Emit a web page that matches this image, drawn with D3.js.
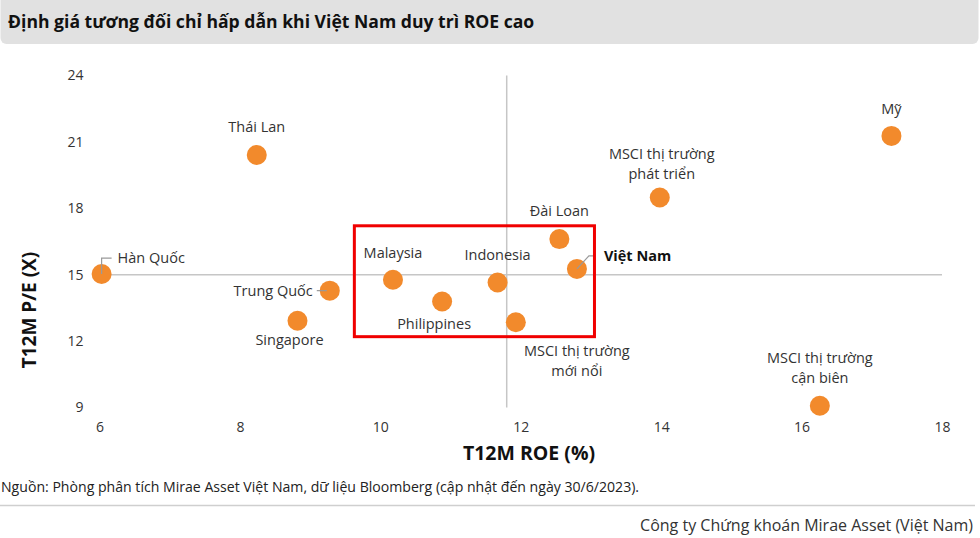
<!DOCTYPE html>
<html>
<head>
<meta charset="utf-8">
<script src="https://cdn.jsdelivr.net/npm/d3@7"></script>
<style>
  body { margin: 0; background: #fff; }
  svg { display: block; font-family: "Open Sans", "Noto Sans", sans-serif; }
</style>
</head>
<body>
<div id="chart"></div>
<script>
// chart data
const names = ["Hàn Quốc", "Thái Lan", "Trung Quốc", "Singapore", "Malaysia", "Philippines",
  "Indonesia", "MSCI thị trường mới nổi", "Đài Loan", "Việt Nam", "MSCI thị trường phát triển",
  "Mỹ", "MSCI thị trường cận biên"];
const roe = [6.03, 8.24, 9.28, 8.82, 10.18, 10.88, 11.67, 11.93, 12.55, 12.80, 13.98, 17.28, 16.26];
const pe = [15.03, 20.41, 14.28, 12.92, 14.77, 13.79, 14.65, 12.85, 16.61, 15.26, 18.49, 21.27, 9.08];
const xTicks = [6, 8, 10, 12, 14, 16, 18];
const yTicks = [9, 12, 15, 18, 21, 24];
const avgRoe = 11.8;   // vertical reference line
const avgPe = 15;      // horizontal reference line
const boxRoe = [9.63, 13.05];  // red highlight box
const boxPe = [12.2, 17.21];

// label layout (pixel offsets from the point)
const labelPos = {
  "Hàn Quốc": { dx: 16, dy: -16, anchor: "start", lines: ["Hàn Quốc"], leader: "elbow" },
  "Thái Lan": { dx: 0, dy: -28, anchor: "middle", lines: ["Thái Lan"] },
  "Trung Quốc": { dx: -17, dy: 0, anchor: "end", lines: ["Trung Quốc"], leader: "left" },
  "Singapore": { dx: -8, dy: 19, anchor: "middle", lines: ["Singapore"] },
  "Malaysia": { dx: 0, dy: -27, anchor: "middle", lines: ["Malaysia"] },
  "Philippines": { dx: -8, dy: 22, anchor: "middle", lines: ["Philippines"] },
  "Indonesia": { dx: 0, dy: -28, anchor: "middle", lines: ["Indonesia"] },
  "MSCI thị trường mới nổi": { dx: 61, dy: 29, anchor: "middle", lines: ["MSCI thị trường", "mới nổi"] },
  "Đài Loan": { dx: 0, dy: -28, anchor: "middle", lines: ["Đài Loan"] },
  "Việt Nam": { dx: 27, dy: -13, anchor: "start", lines: ["Việt Nam"], bold: true, leader: "diag" },
  "MSCI thị trường phát triển": { dx: 2, dy: -44, anchor: "middle", lines: ["MSCI thị trường", "phát triển"] },
  "Mỹ": { dx: 0, dy: -27, anchor: "middle", lines: ["Mỹ"] },
  "MSCI thị trường cận biên": { dx: 0, dy: -48, anchor: "middle", lines: ["MSCI thị trường", "cận biên"] }
};

const width = 980, height = 538;
const svg = d3.select("#chart").append("svg")
  .attr("width", width).attr("height", height);

// title bar
svg.append("rect")
  .attr("x", 0.5).attr("y", -6).attr("width", 978).attr("height", 50)
  .attr("rx", 6).attr("fill", "#e1e1e1");
svg.append("text")
  .attr("x", 8).attr("y", 22).attr("dy", "0.35em")
  .attr("font-size", 17.6).attr("font-weight", 700).attr("fill", "#111")
  .text("Định giá tương đối chỉ hấp dẫn khi Việt Nam duy trì ROE cao");

const x = d3.scaleLinear().domain([6, 18]).range([99.5, 942]);
const y = d3.scaleLinear().domain([9, 24]).range([407.5, 75.5]);

// axes (labels only)
const xAxis = svg.append("g")
  .attr("transform", "translate(0," + y(9) + ")")
  .call(d3.axisBottom(x).tickValues(xTicks).tickSize(0).tickPadding(15));
const yAxis = svg.append("g")
  .attr("transform", "translate(" + x(6) + ",0)")
  .call(d3.axisLeft(y).tickValues(yTicks).tickSize(0).tickPadding(16));
[xAxis, yAxis].forEach(function(g) {
  g.select(".domain").remove();
  g.selectAll("text").attr("font-size", 14).attr("fill", "#333")
    .attr("font-family", "'Open Sans', sans-serif");
});

svg.append("text")
  .attr("x", 529).attr("y", 453).attr("dy", "0.35em")
  .attr("text-anchor", "middle").attr("font-size", 19.5).attr("font-weight", 700).attr("fill", "#111")
  .text("T12M ROE (%)");
svg.append("text")
  .attr("transform", "translate(29,310) rotate(-90)")
  .attr("dy", "0.35em")
  .attr("text-anchor", "middle").attr("font-size", 19).attr("font-weight", 700).attr("fill", "#111")
  .text("T12M P/E (X)");

// reference lines
svg.append("line")
  .attr("x1", x(6)).attr("x2", x(18)).attr("y1", y(avgPe)).attr("y2", y(avgPe))
  .attr("stroke", "#c6c6c6").attr("stroke-width", 1.5);
svg.append("line")
  .attr("x1", x(avgRoe)).attr("x2", x(avgRoe)).attr("y1", y(9)).attr("y2", y(24))
  .attr("stroke", "#c6c6c6").attr("stroke-width", 1.5);

// points
const pts = names.map(function(n, i) { return { name: n, roe: roe[i], pe: pe[i] }; });
svg.append("g").selectAll("circle")
  .data(pts).join("circle")
  .attr("cx", d => x(d.roe)).attr("cy", d => y(d.pe))
  .attr("r", 10).attr("fill", "#f28a2c");

// leader lines
const leaders = svg.append("g").attr("fill", "none").attr("stroke", "#9a9a9a").attr("stroke-width", 1.2);
pts.forEach(function(d) {
  const p = labelPos[d.name];
  const cx = x(d.roe), cy = y(d.pe);
  if (p.leader === "elbow") {
    leaders.append("path").attr("d", "M" + cx + "," + cy + "V" + (cy + p.dy) + "H" + (cx + p.dx - 6));
  } else if (p.leader === "left") {
    leaders.append("path").attr("d", "M" + (cx - 3) + "," + cy + "H" + (cx + p.dx + 4));
  } else if (p.leader === "diag") {
    leaders.append("path").attr("d", "M" + cx + "," + cy + "L" + (cx + 12) + "," + (cy + p.dy) + "H" + (cx + p.dx - 10));
  }
});

// labels
pts.forEach(function(d) {
  const p = labelPos[d.name];
  const t = svg.append("text")
    .attr("x", x(d.roe) + p.dx).attr("y", y(d.pe) + p.dy)
    .attr("text-anchor", p.anchor).attr("font-size", 14.5)
    .attr("font-weight", p.bold ? 700 : 400)
    .attr("fill", p.bold ? "#111" : "#333");
  p.lines.forEach(function(line, i) {
    t.append("tspan").attr("x", x(d.roe) + p.dx).attr("dy", i === 0 ? "0.35em" : "20px").text(line);
  });
});

// highlight box
svg.append("rect")
  .attr("x", x(boxRoe[0])).attr("y", y(boxPe[1]))
  .attr("width", x(boxRoe[1]) - x(boxRoe[0])).attr("height", y(boxPe[0]) - y(boxPe[1]))
  .attr("fill", "none").attr("stroke", "#f00000").attr("stroke-width", 3);

// footer
svg.append("text")
  .attr("x", 1).attr("y", 487).attr("dy", "0.35em")
  .attr("font-size", 14.1).attr("fill", "#222")
  .text("Nguồn: Phòng phân tích Mirae Asset Việt Nam, dữ liệu Bloomberg (cập nhật đến ngày 30/6/2023).");
svg.append("line")
  .attr("x1", 0).attr("x2", 975).attr("y1", 505.5).attr("y2", 505.5)
  .attr("stroke", "#cfcfcf").attr("stroke-width", 1.5);
svg.append("text")
  .attr("x", 973).attr("y", 525).attr("dy", "0.35em").attr("text-anchor", "end")
  .attr("font-size", 16).attr("fill", "#333")
  .text("Công ty Chứng khoán Mirae Asset (Việt Nam)");
</script>
</body>
</html>
